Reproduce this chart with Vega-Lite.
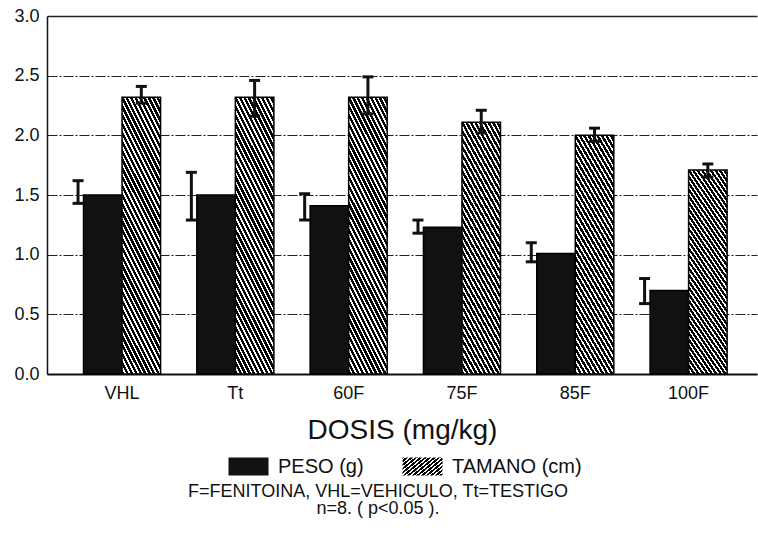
{
  "$schema": "https://vega.github.io/schema/vega-lite/v6.json",
  "width": 710,
  "height": 358,
  "autosize": "none",
  "padding": {"left": 47, "top": 16, "right": 1, "bottom": 170},
  "background": "#ffffff",
  "title": {
    "text": ["F=FENITOINA, VHL=VEHICULO, Tt=TESTIGO", "n=8. ( p<0.05 )."],
    "orient": "bottom",
    "anchor": "middle",
    "font": "Liberation Sans",
    "fontSize": 18,
    "fontWeight": "normal",
    "color": "#111111",
    "lineHeight": 17,
    "offset": 5,
    "dx": -24
  },
  "data": {
    "values": [
      {"grupo": "VHL", "serie": "PESO (g)", "valor": 1.5, "lo": 1.43, "hi": 1.62},
      {"grupo": "VHL", "serie": "TAMANO (cm)", "valor": 2.32, "lo": 2.27, "hi": 2.41},
      {"grupo": "Tt", "serie": "PESO (g)", "valor": 1.5, "lo": 1.29, "hi": 1.69},
      {"grupo": "Tt", "serie": "TAMANO (cm)", "valor": 2.32, "lo": 2.16, "hi": 2.46},
      {"grupo": "60F", "serie": "PESO (g)", "valor": 1.41, "lo": 1.29, "hi": 1.51},
      {"grupo": "60F", "serie": "TAMANO (cm)", "valor": 2.32, "lo": 2.18, "hi": 2.49},
      {"grupo": "75F", "serie": "PESO (g)", "valor": 1.23, "lo": 1.18, "hi": 1.29},
      {"grupo": "75F", "serie": "TAMANO (cm)", "valor": 2.11, "lo": 2.02, "hi": 2.21},
      {"grupo": "85F", "serie": "PESO (g)", "valor": 1.01, "lo": 0.94, "hi": 1.1},
      {"grupo": "85F", "serie": "TAMANO (cm)", "valor": 2.0, "lo": 1.95, "hi": 2.06},
      {"grupo": "100F", "serie": "PESO (g)", "valor": 0.7, "lo": 0.59, "hi": 0.8},
      {"grupo": "100F", "serie": "TAMANO (cm)", "valor": 1.71, "lo": 1.65, "hi": 1.76}
    ]
  },
  "resolve": {"scale": {"opacity": "independent"}, "legend": {"opacity": "independent"}},
  "encoding": {
    "x": {
      "field": "grupo",
      "type": "nominal",
      "sort": ["VHL", "Tt", "60F", "75F", "85F", "100F"],
      "scale": {"paddingInner": 0.32, "paddingOuter": 0.293, "align": 0.55},
      "title": "DOSIS (mg/kg)"
    },
    "xOffset": {
      "field": "serie",
      "type": "nominal",
      "sort": ["PESO (g)", "TAMANO (cm)"],
      "scale": {"domain": ["PESO (g)", "TAMANO (cm)"], "paddingInner": 0, "paddingOuter": 0}
    }
  },
  "layer": [
    {
      "transform": [{"filter": "datum.serie === 'PESO (g)'"}],
      "mark": {"type": "bar", "fill": "#111111", "stroke": "#000000", "strokeWidth": 1.5},
      "encoding": {
        "y": {
          "field": "valor",
          "type": "quantitative",
          "stack": null,
          "title": null,
          "scale": {"domain": [0, 3]},
          "axis": {
            "values": [0, 0.5, 1, 1.5, 2, 2.5, 3],
            "format": ".1f",
            "gridDash": {"condition": {"test": "datum.value === 3", "value": []}, "value": [10, 2, 2, 2]},
            "gridWidth": {"condition": {"test": "datum.value === 3", "value": 1.6}, "value": 1}
          }
        },
        "opacity": {
          "field": "serie",
          "type": "nominal",
          "scale": {"domain": ["PESO (g)"], "range": [1]},
          "legend": {
            "orient": "none",
            "legendX": 181,
            "legendY": 430,
            "direction": "horizontal",
            "title": null,
            "symbolType": "M-1,-0.45H1V0.45H-1Z",
            "symbolSize": 1600,
            "symbolStrokeColor": "#000000",
            "symbolStrokeWidth": 1,
            "labelFont": "Liberation Sans",
            "labelFontSize": 20,
            "labelColor": "#111111",
            "labelOffset": 9,
            "labelLimit": 300
          }
        }
      }
    },
    {
      "transform": [{"filter": "datum.serie === 'TAMANO (cm)'"}],
      "mark": {
        "type": "bar",
        "stroke": "#000000",
        "strokeWidth": 1.5,
        "fill": {
          "gradient": "linear", "x1": 0, "y1": 1, "x2": 0.3295, "y2": -0.186,
          "stops": [
            {"offset": 0, "color": "#000"}, {"offset": 0.015, "color": "#000"}, {"offset": 0.015, "color": "#fff"}, {"offset": 0.025, "color": "#fff"},
            {"offset": 0.025, "color": "#000"}, {"offset": 0.04, "color": "#000"}, {"offset": 0.04, "color": "#fff"}, {"offset": 0.05, "color": "#fff"},
            {"offset": 0.05, "color": "#000"}, {"offset": 0.065, "color": "#000"}, {"offset": 0.065, "color": "#fff"}, {"offset": 0.075, "color": "#fff"},
            {"offset": 0.075, "color": "#000"}, {"offset": 0.09, "color": "#000"}, {"offset": 0.09, "color": "#fff"}, {"offset": 0.1, "color": "#fff"},
            {"offset": 0.1, "color": "#000"}, {"offset": 0.115, "color": "#000"}, {"offset": 0.115, "color": "#fff"}, {"offset": 0.125, "color": "#fff"},
            {"offset": 0.125, "color": "#000"}, {"offset": 0.14, "color": "#000"}, {"offset": 0.14, "color": "#fff"}, {"offset": 0.15, "color": "#fff"},
            {"offset": 0.15, "color": "#000"}, {"offset": 0.165, "color": "#000"}, {"offset": 0.165, "color": "#fff"}, {"offset": 0.175, "color": "#fff"},
            {"offset": 0.175, "color": "#000"}, {"offset": 0.19, "color": "#000"}, {"offset": 0.19, "color": "#fff"}, {"offset": 0.2, "color": "#fff"},
            {"offset": 0.2, "color": "#000"}, {"offset": 0.215, "color": "#000"}, {"offset": 0.215, "color": "#fff"}, {"offset": 0.225, "color": "#fff"},
            {"offset": 0.225, "color": "#000"}, {"offset": 0.24, "color": "#000"}, {"offset": 0.24, "color": "#fff"}, {"offset": 0.25, "color": "#fff"},
            {"offset": 0.25, "color": "#000"}, {"offset": 0.265, "color": "#000"}, {"offset": 0.265, "color": "#fff"}, {"offset": 0.275, "color": "#fff"},
            {"offset": 0.275, "color": "#000"}, {"offset": 0.29, "color": "#000"}, {"offset": 0.29, "color": "#fff"}, {"offset": 0.3, "color": "#fff"},
            {"offset": 0.3, "color": "#000"}, {"offset": 0.315, "color": "#000"}, {"offset": 0.315, "color": "#fff"}, {"offset": 0.325, "color": "#fff"},
            {"offset": 0.325, "color": "#000"}, {"offset": 0.34, "color": "#000"}, {"offset": 0.34, "color": "#fff"}, {"offset": 0.35, "color": "#fff"},
            {"offset": 0.35, "color": "#000"}, {"offset": 0.365, "color": "#000"}, {"offset": 0.365, "color": "#fff"}, {"offset": 0.375, "color": "#fff"},
            {"offset": 0.375, "color": "#000"}, {"offset": 0.39, "color": "#000"}, {"offset": 0.39, "color": "#fff"}, {"offset": 0.4, "color": "#fff"},
            {"offset": 0.4, "color": "#000"}, {"offset": 0.415, "color": "#000"}, {"offset": 0.415, "color": "#fff"}, {"offset": 0.425, "color": "#fff"},
            {"offset": 0.425, "color": "#000"}, {"offset": 0.44, "color": "#000"}, {"offset": 0.44, "color": "#fff"}, {"offset": 0.45, "color": "#fff"},
            {"offset": 0.45, "color": "#000"}, {"offset": 0.465, "color": "#000"}, {"offset": 0.465, "color": "#fff"}, {"offset": 0.475, "color": "#fff"},
            {"offset": 0.475, "color": "#000"}, {"offset": 0.49, "color": "#000"}, {"offset": 0.49, "color": "#fff"}, {"offset": 0.5, "color": "#fff"},
            {"offset": 0.5, "color": "#000"}, {"offset": 0.515, "color": "#000"}, {"offset": 0.515, "color": "#fff"}, {"offset": 0.525, "color": "#fff"},
            {"offset": 0.525, "color": "#000"}, {"offset": 0.54, "color": "#000"}, {"offset": 0.54, "color": "#fff"}, {"offset": 0.55, "color": "#fff"},
            {"offset": 0.55, "color": "#000"}, {"offset": 0.565, "color": "#000"}, {"offset": 0.565, "color": "#fff"}, {"offset": 0.575, "color": "#fff"},
            {"offset": 0.575, "color": "#000"}, {"offset": 0.59, "color": "#000"}, {"offset": 0.59, "color": "#fff"}, {"offset": 0.6, "color": "#fff"},
            {"offset": 0.6, "color": "#000"}, {"offset": 0.615, "color": "#000"}, {"offset": 0.615, "color": "#fff"}, {"offset": 0.625, "color": "#fff"},
            {"offset": 0.625, "color": "#000"}, {"offset": 0.64, "color": "#000"}, {"offset": 0.64, "color": "#fff"}, {"offset": 0.65, "color": "#fff"},
            {"offset": 0.65, "color": "#000"}, {"offset": 0.665, "color": "#000"}, {"offset": 0.665, "color": "#fff"}, {"offset": 0.675, "color": "#fff"},
            {"offset": 0.675, "color": "#000"}, {"offset": 0.69, "color": "#000"}, {"offset": 0.69, "color": "#fff"}, {"offset": 0.7, "color": "#fff"},
            {"offset": 0.7, "color": "#000"}, {"offset": 0.715, "color": "#000"}, {"offset": 0.715, "color": "#fff"}, {"offset": 0.725, "color": "#fff"},
            {"offset": 0.725, "color": "#000"}, {"offset": 0.74, "color": "#000"}, {"offset": 0.74, "color": "#fff"}, {"offset": 0.75, "color": "#fff"},
            {"offset": 0.75, "color": "#000"}, {"offset": 0.765, "color": "#000"}, {"offset": 0.765, "color": "#fff"}, {"offset": 0.775, "color": "#fff"},
            {"offset": 0.775, "color": "#000"}, {"offset": 0.79, "color": "#000"}, {"offset": 0.79, "color": "#fff"}, {"offset": 0.8, "color": "#fff"},
            {"offset": 0.8, "color": "#000"}, {"offset": 0.815, "color": "#000"}, {"offset": 0.815, "color": "#fff"}, {"offset": 0.825, "color": "#fff"},
            {"offset": 0.825, "color": "#000"}, {"offset": 0.84, "color": "#000"}, {"offset": 0.84, "color": "#fff"}, {"offset": 0.85, "color": "#fff"},
            {"offset": 0.85, "color": "#000"}, {"offset": 0.865, "color": "#000"}, {"offset": 0.865, "color": "#fff"}, {"offset": 0.875, "color": "#fff"},
            {"offset": 0.875, "color": "#000"}, {"offset": 0.89, "color": "#000"}, {"offset": 0.89, "color": "#fff"}, {"offset": 0.9, "color": "#fff"},
            {"offset": 0.9, "color": "#000"}, {"offset": 0.915, "color": "#000"}, {"offset": 0.915, "color": "#fff"}, {"offset": 0.925, "color": "#fff"},
            {"offset": 0.925, "color": "#000"}, {"offset": 0.94, "color": "#000"}, {"offset": 0.94, "color": "#fff"}, {"offset": 0.95, "color": "#fff"},
            {"offset": 0.95, "color": "#000"}, {"offset": 0.965, "color": "#000"}, {"offset": 0.965, "color": "#fff"}, {"offset": 0.975, "color": "#fff"},
            {"offset": 0.975, "color": "#000"}, {"offset": 0.99, "color": "#000"}, {"offset": 0.99, "color": "#fff"}, {"offset": 1, "color": "#fff"}
          ]
        }
      },
      "encoding": {
        "y": {"field": "valor", "type": "quantitative", "stack": null, "title": null},
        "opacity": {
          "field": "serie",
          "type": "nominal",
          "scale": {"domain": ["TAMANO (cm)"], "range": [1]},
          "legend": {
            "orient": "none",
            "legendX": 355,
            "legendY": 430,
            "direction": "horizontal",
            "title": null,
            "symbolType": "M-1,-0.45H1V0.45H-1Z",
            "symbolSize": 1600,
            "symbolStrokeColor": "#000000",
            "symbolStrokeWidth": 1,
            "labelFont": "Liberation Sans",
            "labelFontSize": 20,
            "labelColor": "#111111",
            "labelOffset": 9,
            "labelLimit": 300
          }
        }
      }
    },
    {
      "transform": [{"filter": "datum.serie === 'PESO (g)'"}],
      "mark": {"type": "rule", "xOffset": -44, "strokeWidth": 3, "color": "#111111"},
      "encoding": {
        "xOffset": null,
        "y": {"field": "lo", "type": "quantitative", "title": null},
        "y2": {"field": "hi"}
      }
    },
    {
      "transform": [{"filter": "datum.serie === 'TAMANO (cm)'"}],
      "mark": {"type": "rule", "strokeWidth": 3, "color": "#111111"},
      "encoding": {
        "y": {"field": "lo", "type": "quantitative", "title": null},
        "y2": {"field": "hi"}
      }
    },
    {
      "transform": [{"filter": "datum.serie === 'PESO (g)'"}, {"fold": ["lo", "hi"], "as": ["extremo", "v"]}],
      "mark": {"type": "tick", "orient": "horizontal", "xOffset": -44, "size": 11, "thickness": 3, "color": "#111111", "opacity": 1},
      "encoding": {
        "xOffset": null,
        "y": {"field": "v", "type": "quantitative", "title": null}
      }
    },
    {
      "transform": [{"filter": "datum.serie === 'TAMANO (cm)'"}, {"fold": ["lo", "hi"], "as": ["extremo", "v"]}],
      "mark": {"type": "tick", "orient": "horizontal", "size": 11, "thickness": 3, "color": "#111111", "opacity": 1},
      "encoding": {
        "y": {"field": "v", "type": "quantitative", "title": null}
      }
    }
  ],
  "config": {
    "font": "Liberation Sans",
    "view": {"stroke": null},
    "axis": {
      "labelColor": "#111111",
      "titleColor": "#111111",
      "domainColor": "#111111",
      "ticks": false,
      "labelFont": "Liberation Sans",
      "titleFont": "Liberation Sans"
    },
    "axisX": {
      "labelFontSize": 18,
      "labelPadding": 10,
      "labelAngle": 0,
      "domainWidth": 2,
      "titleFontSize": 28,
      "titleFontWeight": "normal",
      "titlePadding": 14,
      "grid": false
    },
    "axisY": {
      "labelFontSize": 18,
      "labelPadding": 8,
      "domainWidth": 1.5,
      "gridColor": "#222222",
      "gridOpacity": 1
    }
  }
}
